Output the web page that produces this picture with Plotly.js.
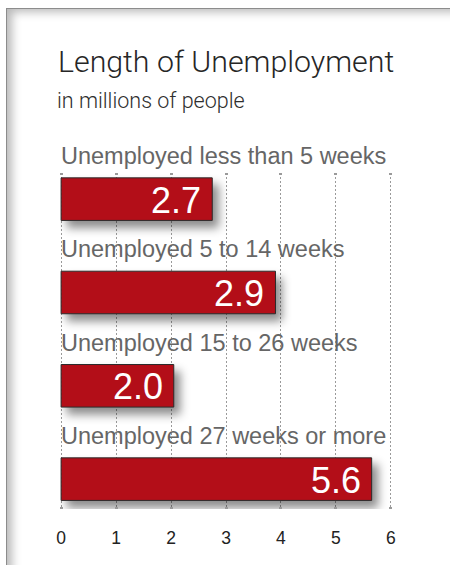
<!DOCTYPE html>
<html><head><meta charset="utf-8">
<script src="https://cdn.plot.ly/plotly-3.0.1.min.js"></script>
<style>
html,body{margin:0;padding:0;background:#fff;width:450px;height:565px;overflow:hidden}
#frame{position:absolute;left:6px;top:8px;width:470px;height:590px;border-left:1px solid #8c8c8c;border-top:1px solid #8c8c8c;box-shadow:inset 8px 6px 10px -3px rgba(0,0,0,0.28);}
#chart{position:absolute;left:0;top:0;width:450px;height:565px}
</style></head><body><div id="frame"></div><div id="chart"></div>
<script>
// ---- data ----
var categories = ["Unemployed less than 5 weeks", "Unemployed 5 to 14 weeks", "Unemployed 15 to 26 weeks", "Unemployed 27 weeks or more"];
var barLengths = [2.75, 3.9, 2.05, 5.65];        // lengths as drawn
var valueLabels = ["2.7", "2.9", "2.0", "5.6"];  // values as printed
var tickValues = [0, 1, 2, 3, 4, 5, 6];
var tickLabels = ["0", "1", "2", "3", "4", "5", "6"];
var titleText = "Length of Unemployment";
var subtitleText = "in millions of people";

var FONT = "Liberation Sans, Arial, Helvetica, sans-serif";
var LIGHT = "Roboto, " + FONT;
var W = 450, H = 565, ML = 59.5, MR = 57.5, MT = 173, MB = 56;
var XR = [-0.02, 6.02], YR = [3.32, -0.28];
function pxX(px){ return (px - ML) / (W - ML - MR); }
function pxY(px){ return (H - MB - px) / (H - MT - MB); }
function catPaperY(v){ return (YR[0] - v) / (YR[0] - YR[1]); }
var labelGapPx = 43;

var trace = {
  type: "bar", orientation: "h",
  y: categories, x: barLengths,
  width: 0.456,
  marker: {color: "#b30e18", line: {color: "#2b2b2b", width: 1}},
  hoverinfo: "none"
};

var annotations = [];
categories.forEach(function(c, i){
  annotations.push({xref: "x", yref: "paper", x: 0, y: catPaperY(i), yshift: labelGapPx, text: c, showarrow: false,
    xanchor: "left", yanchor: "middle", xshift: -2,
    font: {family: FONT, size: 23.5, color: "#666666"}});
  annotations.push({xref: "x", yref: "y", x: barLengths[i], y: i, text: valueLabels[i], showarrow: false,
    xanchor: "right", yanchor: "middle", xshift: -9, yshift: -1,
    font: {family: FONT, size: 36, color: "#ffffff"}});
});
annotations.push({xref: "paper", yref: "paper", x: pxX(55), y: pxY(61), text: titleText, showarrow: false,
  xanchor: "left", yanchor: "middle", font: {family: LIGHT, size: 30.3, color: "#262626", weight: 300}});
annotations.push({xref: "paper", yref: "paper", x: pxX(54), y: pxY(100), text: subtitleText, showarrow: false,
  xanchor: "left", yanchor: "middle", font: {family: LIGHT, size: 21.5, color: "#2e2e2e", weight: 300}});

var layout = {
  width: W, height: H,
  margin: {l: ML, r: MR, t: MT, b: MB, pad: 0},
  paper_bgcolor: "rgba(0,0,0,0)", plot_bgcolor: "rgba(0,0,0,0)",
  showlegend: false,
  xaxis: {range: XR, tickvals: tickValues, ticktext: tickLabels,
    showgrid: true, gridcolor: "#9a9a9a", gridwidth: 1, griddash: "2px,2px",
    zeroline: false, showline: false,
    ticks: "inside", ticklen: 2, tickwidth: 3, tickcolor: "#9a9a9a", mirror: "ticks",
    ticklabelstandoff: 16,
    tickfont: {family: FONT, size: 17.5, color: "#222222"}, fixedrange: true},
  yaxis: {type: "category", range: YR, showticklabels: false, showgrid: false,
    zeroline: false, showline: false, ticks: "", fixedrange: true},
  annotations: annotations
};

Plotly.newPlot("chart", [trace], layout, {staticPlot: true, displayModeBar: false}).then(function(){
  document.querySelectorAll("#chart .barlayer").forEach(function(g){
    g.style.filter = "drop-shadow(6px 7px 5px rgba(0,0,0,0.45))";
  });
});
</script></body></html>
